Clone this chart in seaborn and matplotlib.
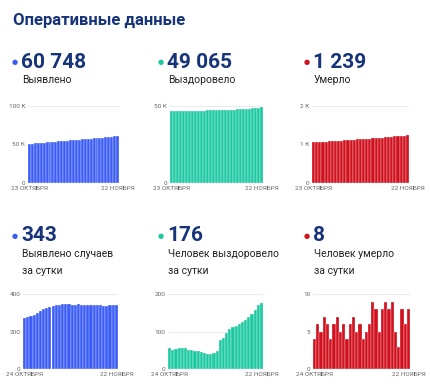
import matplotlib
matplotlib.use("Agg")
import matplotlib.pyplot as plt
import seaborn as sns
import pandas as pd

sns.set_style("white")
plt.rcParams['font.family'] = ['Roboto', 'DejaVu Sans']

# cumulative, 23 Oct - 22 Nov
detected_total = [50900, 51200, 51500, 51800, 52100, 52400, 52750, 53050, 53400, 53700,
                  54050, 54400, 54700, 55050, 55400, 55700, 56050, 56400, 56700, 57050,
                  57400, 57750, 58100, 58400, 58750, 59050, 59400, 59700, 60050, 60400, 60748]
recovered_total = [46500, 46550, 46600, 46650, 46700, 46760, 46810, 46860, 46910, 46960,
                   47000, 47040, 47080, 47120, 47160, 47200, 47240, 47290, 47370, 47460,
                   47560, 47670, 47780, 47900, 48020, 48150, 48280, 48420, 48570, 48730, 49065]
deaths_total = [1052, 1056, 1062, 1067, 1074, 1080, 1084, 1090, 1097, 1102,
                1108, 1112, 1118, 1125, 1130, 1136, 1140, 1145, 1151, 1160,
                1168, 1173, 1181, 1190, 1198, 1207, 1212, 1215, 1223, 1231, 1239]

# daily, 24 Oct - 22 Nov
detected_daily = [270, 275, 282, 290, 300, 308, 318, 325, 330, 336, 340, 343, 345, 346, 345,
                  344, 344, 345, 344, 343, 342, 342, 341, 340, 339, 336, 334, 340, 341, 343]
recovered_daily = [57, 52, 54, 56, 57, 55, 52, 51, 49, 47, 45, 42, 39, 41, 44,
                   47, 78, 84, 97, 107, 112, 116, 120, 126, 132, 138, 148, 158, 170, 176]
deaths_daily = [4, 6, 5, 7, 6, 4, 6, 7, 5, 6, 4, 6, 7, 5, 6,
                4, 5, 6, 9, 8, 5, 8, 9, 8, 9, 5, 3, 8, 6, 8]

blue = "#3b5cf6"
green = "#1ec9a2"
red = "#d0101d"
navy = "#17347a"

panels = [
    # values, color, yticks, ylabels, first date, big number, caption, axes rect (px)
    (detected_total, blue, [0, 50000, 100000], ["0", "50 К", "100 К"], "23 ОКТЯБРЯ",
     "60 748", "Выявлено", (28, 106, 119, 183)),
    (recovered_total, green, [0, 50000], ["0", "50 К"], "23 ОКТЯБРЯ",
     "49 065", "Выздоровело", (170, 106, 263, 183)),
    (deaths_total, red, [0, 1000, 2000], ["0", "1 К", "2 К"], "23 ОКТЯБРЯ",
     "1 239", "Умерло", (312, 106, 409, 183)),
    (detected_daily, blue, [0, 200, 400], ["0", "200", "400"], "24 ОКТЯБРЯ",
     "343", "Выявлено случаев\nза сутки", (23, 294, 118, 369)),
    (recovered_daily, green, [0, 100, 200], ["0", "100", "200"], "24 ОКТЯБРЯ",
     "176", "Человек выздоровело\nза сутки", (168, 294, 263, 369)),
    (deaths_daily, red, [0, 5, 10], ["0", "5", "10"], "24 ОКТЯБРЯ",
     "8", "Человек умерло\nза сутки", (313, 294, 410, 369)),
]
dot_x = [15, 161, 307, 15, 161, 307]

W, H = 430, 388
fig = plt.figure(figsize=(W / 100, H / 100), dpi=100)
fig.text(13 / W, 1 - 20 / H, "Оперативные данные", fontsize=12, fontweight="bold",
         color=navy, va="center", ha="left")

for i, (vals, color, yt, yl, d0, big, cap, (x0, y0, x1, y1)) in enumerate(panels):
    ax = fig.add_axes([x0 / W, 1 - y1 / H, (x1 - x0) / W, (y1 - y0) / H])
    df = pd.DataFrame({"day": range(len(vals)), "value": vals})
    sns.barplot(data=df, x="day", y="value", color=color, width=1,
                edgecolor="white", linewidth=0.22, saturation=1, ax=ax, zorder=2)
    ax.set_xlim(-0.5, len(vals) - 0.5)
    ax.set_ylim(0, yt[-1])
    ax.set_yticks(yt)
    ax.set_yticklabels(yl)
    ax.set_xticks([0, len(vals) - 1])
    ax.set_xticklabels([d0, "22 НОЯБРЯ"])
    ax.grid(axis="y", color="#e8e8e8", linewidth=0.6, zorder=0)
    ax.tick_params(length=0, labelsize=4.6, labelcolor="#666666", pad=2)
    ax.set_xlabel("")
    ax.set_ylabel("")
    sns.despine(ax=ax, left=True, bottom=True)

    # headline number with dot
    top = 62 if i < 3 else 236
    dx = dot_x[i]
    fig.text(dx / W, 1 - top / H, "●", fontsize=5, color=color, va="center", ha="center",
             family=["DejaVu Sans"])
    fig.text((dx + 6) / W, 1 - top / H, big, fontsize=15, fontweight="bold",
             color=navy, va="center", ha="left")
    fig.text((dx + 7) / W, 1 - (top + 13) / H, cap, fontsize=7.5, color="#222222",
             va="top", ha="left", linespacing=1.9)

fig.savefig("out.png", dpi=100)
